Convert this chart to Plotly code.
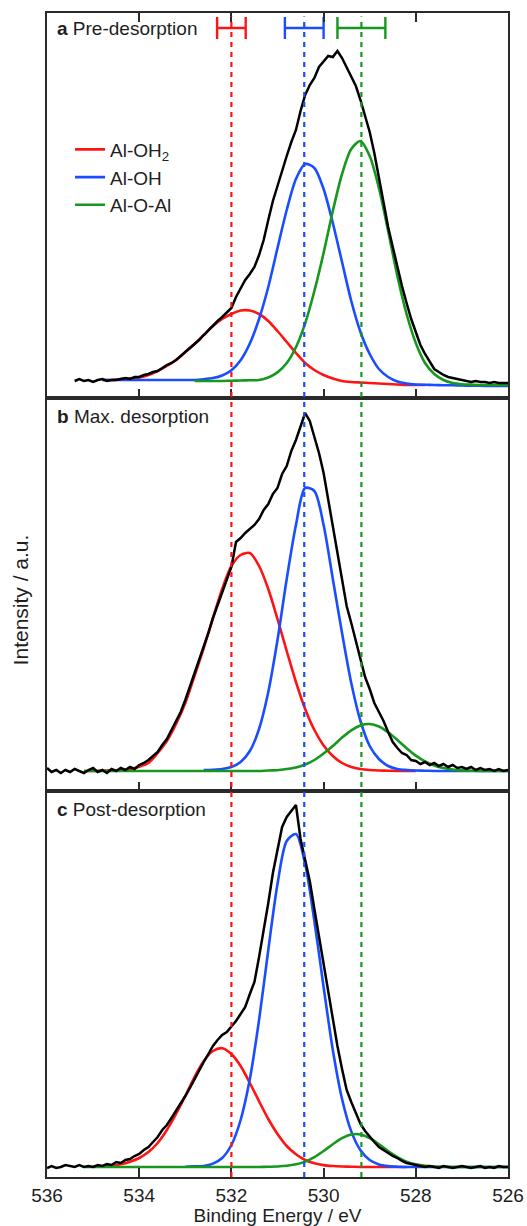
import plotly.graph_objects as go
from plotly.subplots import make_subplots

# ---------------- data (binding energy in eV, intensity in arbitrary units) -------------
energy_scan = [536.0, 535.9, 535.8, 535.7, 535.6, 535.5, 535.4, 535.3, 535.2, 535.1,
               535.0, 534.9, 534.8, 534.7, 534.6, 534.5, 534.4, 534.3, 534.2, 534.1,
               534.0, 533.9, 533.8, 533.7, 533.6, 533.5, 533.4, 533.3, 533.2, 533.1,
               533.0, 532.9, 532.8, 532.7, 532.6, 532.5, 532.4, 532.3, 532.2, 532.1,
               532.0, 531.9, 531.8, 531.7, 531.6, 531.5, 531.4, 531.3, 531.2, 531.1,
               531.0, 530.9, 530.8, 530.7, 530.6, 530.5, 530.4, 530.3, 530.2, 530.1,
               530.0, 529.9, 529.8, 529.7, 529.6, 529.5, 529.4, 529.3, 529.2, 529.1,
               529.0, 528.9, 528.8, 528.7, 528.6, 528.5, 528.4, 528.3, 528.2, 528.1,
               528.0, 527.9, 527.8, 527.7, 527.6, 527.5, 527.4, 527.3, 527.2, 527.1,
               527.0, 526.9, 526.8, 526.7, 526.6, 526.5, 526.4, 526.3, 526.2, 526.1,
               526.0]

measured_a = [None, None, None, None, None, None, 17, 19, 17, 18,
              16, 18, 19, 17, 18, 18, 19, 20, 19, 21,
              21, 23, 24, 26, 27, 30, 33, 35, 38, 42,
              46, 50, 54, 58, 63, 68, 72, 77, 81, 86,
              90, 101, 110, 118, 124, 131, 143, 158, 178, 197,
              212, 228, 242, 256, 268, 287, 303, 313, 320, 331,
              336, 342, 341, 347, 340, 331, 322, 312, 298, 283,
              266, 245, 219, 195, 171, 151, 131, 112, 95, 79,
              66, 53, 44, 36, 29, 26, 23, 21, 20, 19,
              18, 17, 16, 17, 16, 16, 15, 16, 15, 15,
              15]

measured_b = [23, 19, 21, 18, 21, 19, 22, 20, 18, 21,
              23, 19, 21, 18, 22, 20, 23, 21, 24, 22,
              26, 28, 31, 35, 39, 46, 52, 61, 70, 79,
              91, 104, 118, 130, 145, 158, 173, 186, 198, 212,
              224, 249, 253, 258, 262, 266, 272, 281, 287, 297,
              303, 317, 325, 340, 351, 364, 378, 370, 354, 338,
              318, 292, 264, 239, 212, 185, 168, 149, 130, 114,
              102, 88, 79, 70, 59, 49, 43, 38, 36, 31,
              30, 27, 29, 26, 28, 25, 27, 24, 26, 23,
              24, 22, 24, 21, 23, 21, 22, 20, 22, 20,
              21]

measured_c = [9, 11, 9, 10, 12, 11, 10, 12, 10, 11,
              10, 12, 11, 13, 12, 15, 14, 17, 18, 21,
              23, 27, 30, 35, 40, 47, 52, 59, 66, 73,
              81, 89, 98, 107, 115, 123, 131, 137, 142, 145,
              150, 156, 163, 170, 183, 195, 220, 246, 274, 304,
              327, 350, 360, 366, 372, 338, 318, 296, 268, 240,
              215, 187, 160, 131, 108, 87, 75, 64, 53, 46,
              40, 35, 30, 27, 24, 21, 19, 16, 14, 13,
              12, 11, 10, 11, 10, 9, 11, 10, 9, 10,
              11, 10, 9, 10, 11, 9, 10, 9, 11, 10,
              10]

energy_fit = [535.2, 535.0, 534.8, 534.6, 534.4, 534.2, 534.0, 533.8, 533.6, 533.4,
              533.2, 533.0, 532.8, 532.6, 532.4, 532.2, 532.0, 531.8, 531.6, 531.4,
              531.2, 531.0, 530.8, 530.6, 530.4, 530.2, 530.0, 529.8, 529.6, 529.4,
              529.2, 529.0, 528.8, 528.6, 528.4, 528.2, 528.0, 527.8, 527.6, 527.4,
              527.2, 527.0, 526.8, 526.6, 526.4, 526.2, 526.0]

al_oh2_a = [None, None, 18, 18, 19, 19.5, 20.5, 23, 27, 32,
            38, 46, 54, 63, 72, 79, 84, 87.5, 87.5, 84,
            77, 67, 56, 45, 35, 28, 23, 19.5, 17, 16,
            15.5, 15, 14.5, 14, 13.5, 13, 13, 13, None, None,
            None, None, None, None, None, None, None]
al_oh_a = [None, None, 18, 18, 18, 18, 18, 18, 18, 18,
           18, 18, 18, 18.7, 19.9, 22.5, 27.8, 37.8, 54.5, 79,
           111, 150, 188, 219, 234, 230, 209, 175, 136, 97,
           66, 44, 29, 21, 16.5, 14.4, 13.5, 13.2, 13, 12.8,
           12.7, 12.5, 12.3, 12.2, 12.1, 12, 12]
al_o_al_a = [None, None, None, None, None, None, None, None, None, None,
             None, None, 17, 17, 17, 17, 17.3, 17.5, 17.8, 18,
             20.5, 25.6, 35, 50.8, 74.6, 107, 145, 187, 224, 249,
             257, 242, 210, 167, 122, 84, 55, 35, 24, 18,
             15, 13.8, 13.4, 13, 13, 13, 13]

al_oh2_b = [20, 20, 20.3, 20.6, 21, 22, 24.3, 28, 38, 50,
            67, 88, 115, 143, 173, 202, 225, 236, 238, 225,
            202, 172, 140, 109, 82, 61, 45.6, 35, 28, 24,
            22, 21, 20.5, 20.3, 20, 20, 20, None, None, None,
            None, None, None, None, None, None, None]
al_oh_b = [None, None, None, None, None, None, None, None, None, None,
           None, None, None, 21, 21.3, 22, 24, 29, 40, 62,
           99, 151, 212, 266, 303, 300, 266, 212, 158, 108,
           70, 45, 32, 25, 22, 21, 20.5, 20.3, 20, 20,
           20, 20, 20, 20, 20, 20, 20]
al_o_al_b = [20, 20, 20, 20, 20, 20, 20, 20, 20, 20,
             20, 20, 20, 20, 20, 20, 20, 20, 20, 20,
             20.5, 20.8, 22, 23.5, 26.5, 31, 37.5, 45, 53.4, 60.7,
             65.6, 67, 64.5, 58.7, 51, 42.8, 35.4, 29.6, 25.5, 22.9,
             21.4, 20.6, 20.3, 20, 20, 20, 20]

al_oh2_c = [None, None, 10.5, 11.3, 12.7, 15.2, 19, 25, 34, 47,
            63, 81, 100, 116, 126, 128.8, 123, 111, 94, 75.7,
            58, 43, 31, 22.7, 17, 13.8, 11.9, 11, 10.5, 10.3,
            10, 10, 10, 10, 10, 10, None, None, None, None,
            None, None, None, None, None, None, None]
al_oh_c = [None, None, None, None, None, None, None, None, None, None,
           None, 10.3, 10.6, 11, 13.4, 19, 32, 57, 98, 157,
           227, 293, 336, 343, 313, 256, 190, 127, 78, 45.6,
           26.7, 17, 12.6, 10.9, 10.3, 10, 10, 10, 10, 10,
           10, 10, 10, 10, 10, 10, 10]
al_o_al_c = [10, 10, 10, 10, 10, 10, 10, 10, 10, 10,
             10, 10, 10, 10, 10, 10, 10, 10, 10, 10,
             10.2, 10.5, 11.2, 12.7, 15.4, 19.9, 26, 32.8, 38.9, 42.5,
             42.5, 38.9, 32.8, 26, 19.9, 15.4, 12.7, 11.2, 10.5, 10.2,
             10, 10, 10, 10, 10, 10, 10]

# mean peak positions (eV) and their spread, shown above panel a
peak_names = ["Al-OH<sub>2</sub>", "Al-OH", "Al-O-Al"]
peak_centres = [532.0, 530.42, 529.18]
peak_spread = [0.31, 0.42, 0.52]
marker_level = [370, 370, 370]

panel_titles = ["<b>a</b> Pre-desorption", "<b>b</b> Max. desorption", "<b>c</b> Post-desorption"]
x_ticks = [536, 534, 532, 530, 528, 526]

# ---------------- styling ----------------
colours = ["#ff1414", "#1a4dff", "#16981e"]
FONT = "Liberation Sans, Arial, Helvetica, sans-serif"
TXT = "#1e1e1e"
AX = "#2a2a2a"

panel_ranges = [385, 393, 386]
title_shift = [-3, -6, -6]

fig = make_subplots(rows=3, cols=1, shared_xaxes=True, vertical_spacing=0,
                    row_heights=panel_ranges)

panels = [
    (measured_a, [al_oh2_a, al_oh_a, al_o_al_a]),
    (measured_b, [al_oh2_b, al_oh_b, al_o_al_b]),
    (measured_c, [al_oh2_c, al_oh_c, al_o_al_c]),
]

for r, (meas, comps) in enumerate(panels, start=1):
    for k, comp in enumerate(comps):
        fig.add_trace(go.Scatter(
            x=energy_fit, y=comp, mode="lines", name=peak_names[k],
            line=dict(color=colours[k], width=2.6, shape="spline", smoothing=0.8),
            showlegend=(r == 1), legendgroup=peak_names[k], hoverinfo="skip",
            connectgaps=False), row=r, col=1)
    fig.add_trace(go.Scatter(
        x=energy_scan, y=meas, mode="lines", name="measured",
        line=dict(color="#000000", width=2.5), showlegend=False), row=r, col=1)

# peak-position spread markers (panel a)
for k in range(3):
    fig.add_trace(go.Scatter(
        x=[peak_centres[k]], y=[marker_level[k]], mode="markers",
        marker=dict(size=1, color=colours[k], opacity=0),
        error_x=dict(type="data", array=[peak_spread[k]], color=colours[k],
                     thickness=2.4, width=11),
        showlegend=False, hoverinfo="skip"), row=1, col=1)

# dashed reference lines through all panels
for k in range(3):
    fig.add_shape(type="line", xref="x3", yref="paper",
                  x0=peak_centres[k], x1=peak_centres[k], y0=0, y1=0.997,
                  line=dict(color=colours[k], width=2.2, dash="5px,5px"),
                  layer="above")

for r in range(1, 4):
    fig.update_xaxes(row=r, col=1, range=[536, 526], tickvals=x_ticks,
                     ticks="inside", ticklen=9, tickwidth=1.5, tickcolor=AX,
                     showline=True, linecolor=AX, linewidth=1.6,
                     mirror=("ticks" if r == 1 else True),
                     showgrid=False, zeroline=False, automargin=False,
                     tickfont=dict(family=FONT, size=19, color=TXT))
    fig.update_yaxes(row=r, col=1, range=[0, panel_ranges[r - 1]],
                     showticklabels=False, ticks="", showgrid=False,
                     zeroline=False, showline=True, linecolor=AX,
                     linewidth=1.6, mirror=True, automargin=False)
    fig.add_annotation(text=panel_titles[r - 1], xref="x domain",
                       yref="y domain" if r == 1 else f"y{r} domain",
                       x=0.018, y=1, xanchor="left", yanchor="top",
                       yshift=title_shift[r - 1],
                       showarrow=False, font=dict(family=FONT, size=19, color=TXT))

fig.update_xaxes(row=3, col=1, title=dict(text="Binding Energy / eV",
                                          font=dict(family=FONT, size=19, color=TXT)))

fig.add_annotation(text="Intensity / a.u.", xref="paper", yref="paper",
                   x=-0.057, y=0.496, xanchor="center", yanchor="middle",
                   textangle=-90, showarrow=False,
                   font=dict(family=FONT, size=21, color=TXT))

fig.update_layout(
    template="none",
    width=527, height=1226,
    margin=dict(l=47, r=19, t=13, b=49, autoexpand=False),
    paper_bgcolor="white", plot_bgcolor="white",
    font=dict(family=FONT, size=19, color=TXT),
    legend=dict(x=0.05, y=0.899, xanchor="left", yanchor="top",
                bgcolor="rgba(0,0,0,0)", borderwidth=0,
                font=dict(family=FONT, size=19, color=TXT),
                tracegroupgap=0, itemwidth=30),
    showlegend=True,
)

fig.write_html(
    "out.html",
    config={"displayModeBar": False, "responsive": False},
    post_script=("document.body.style.margin='0px';"
                 "document.body.style.overflow='hidden';"
                 "document.documentElement.style.overflow='hidden';"),
)
